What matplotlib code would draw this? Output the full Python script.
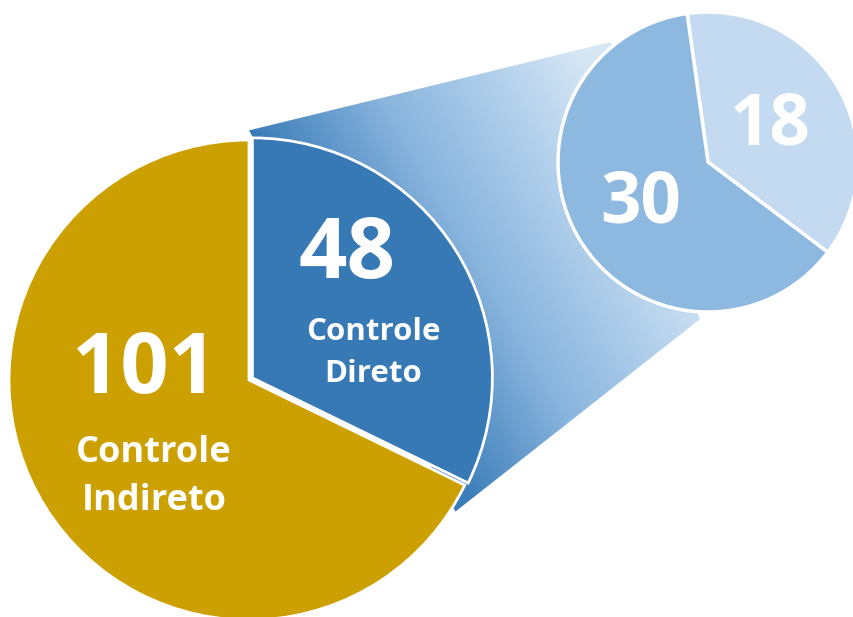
import numpy as np
import matplotlib.pyplot as plt
from matplotlib.patches import Polygon
from matplotlib.colors import to_rgb

# dados
grupos = ['Controle\nIndireto', 'Controle\nDireto']
totais = [101, 48]
detalhe = [18, 30]   # quebra do Controle Direto

AMARELO = '#CCA000'
AZUL = '#3679B5'
AZUL_MEDIO = '#8DB8E0'
AZUL_CLARO = '#C3DAF0'
FONTE = 'Open Sans'

# pizza grande / pizza pequena (coordenadas em pixels, y para cima)
C1, R1 = (249, 237), 240
C2, R2 = (708, 455), 150

fig = plt.figure(figsize=(8.54, 6.17), dpi=100)
ax = fig.add_axes([0, 0, 1, 1])

# pizza principal: Direto primeiro, no sentido horario a partir do topo
ax.pie(totais[::-1], colors=[AZUL, AMARELO], startangle=90, counterclock=False,
       center=C1, radius=R1, explode=[4, 0],
       wedgeprops=dict(edgecolor='white', linewidth=2, zorder=2))

# pizza secundaria
ax.pie(detalhe, colors=[AZUL_CLARO, AZUL_MEDIO], startangle=98, counterclock=False,
       center=C2, radius=R2,
       wedgeprops=dict(edgecolor='white', linewidth=2.5, zorder=3))


def ponto(c, r, ang):
    a = np.radians(ang)
    return (c[0] + r * np.cos(a), c[1] + r * np.sin(a))


# faixa de ligacao com gradiente linear (escuro embaixo/esquerda, claro em cima/direita)
verts = [ponto(C1, R1 * 1.04, 90), ponto(C2, R2 * 1.03, 129),
         ponto(C2, R2 * 1.05, -93), ponto(C1, R1 * 1.02, -32.5)]
poly = Polygon(verts, closed=True, facecolor='none', edgecolor='none')
ax.add_patch(poly)

xs = np.linspace(230, 730, 500)
ys = np.linspace(90, 600, 510)
X, Y = np.meshgrid(xs, ys)
S = 0.865 * X + 0.502 * Y
paradas = [460, 590, 700, 780, 880]
cores = [to_rgb('#3A7CB8'), to_rgb('#88B4DD'), to_rgb('#B2D0EC'),
         to_rgb('#D4E5F4'), to_rgb('#E2EEF8')]
img = np.zeros(X.shape + (3,))
for k in range(3):
    img[..., k] = np.interp(S, paradas, [c[k] for c in cores])
im = ax.imshow(img, extent=(xs[0], xs[-1], ys[0], ys[-1]), origin='lower',
               zorder=1, interpolation='bilinear')
im.set_clip_path(poly)

ax.set_xlim(0, 854)
ax.set_ylim(0, 617)
ax.set_aspect('equal', adjustable='box')
ax.axis('off')

# rotulos
txt = dict(color='white', fontweight='bold', family=FONTE, zorder=5,
           ha='center', va='baseline')
ax.text(145, 224, str(totais[0]), fontsize=61, **txt)
for linha, yb in zip(grupos[0].split('\n'), [155, 107]):
    ax.text(154, yb, linha, fontsize=26, **txt)

ax.text(347, 339, str(totais[1]), fontsize=61, **txt)
for linha, yb in zip(grupos[1].split('\n'), [277, 235]):
    ax.text(373, yb, linha, fontsize=22.5, **txt)

ax.text(641, 394, str(detalhe[1]), fontsize=51, **txt)
ax.text(770, 472, str(detalhe[0]), fontsize=51, **txt)

fig.savefig('out.png', dpi=100)
